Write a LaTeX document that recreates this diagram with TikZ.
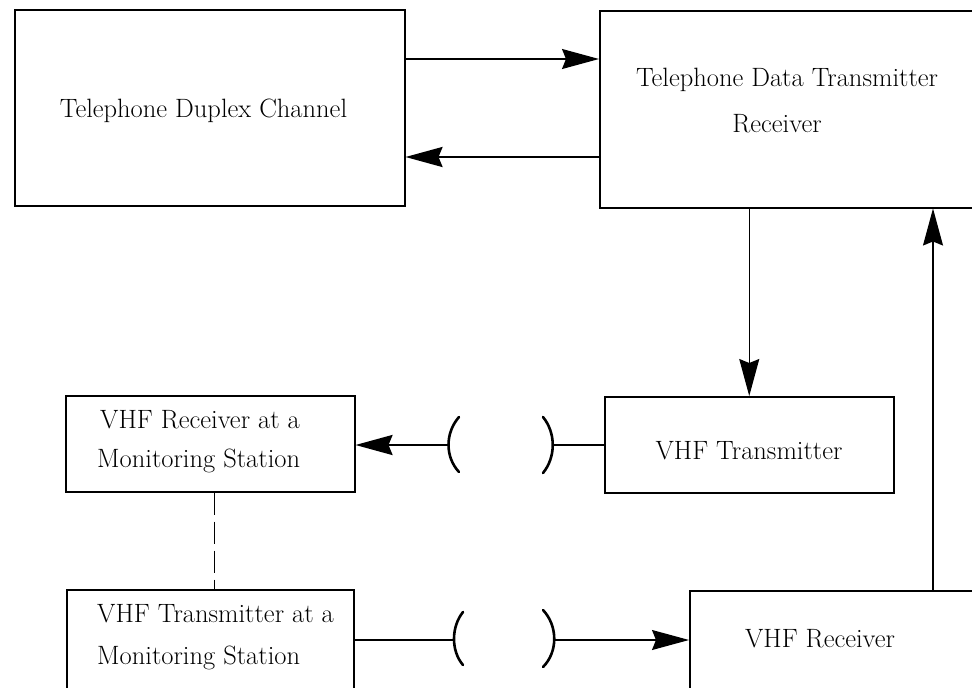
\documentclass[tikz,border=0pt]{standalone}
\usetikzlibrary{arrows.meta}
\begin{document}
\begin{tikzpicture}[x=1pt,y=-1pt,
  blk/.style={draw, line width=1.5pt, inner sep=0pt, anchor=north west},
  lbl/.style={font=\fontsize{26.5}{30}\selectfont, inner sep=0pt},
  link/.style={line width=1.2pt},
  boldlink/.style={line width=2.4pt},
  head/.style={-{Stealth[length=37pt,width=20pt,inset=4pt]}},
  lens/.style={line width=2.6pt, line cap=round}]

\useasboundingbox (0,0) rectangle (972,688);
\clip (0,0) rectangle (972,688);

% blocks
\node[blk, minimum width=390pt, minimum height=196pt] (tdc)  at (14,9)   {};
\node[blk, minimum width=391pt, minimum height=197pt] (tdtr) at (599,10) {};
\node[blk, minimum width=289pt, minimum height=96pt]  (vrm)  at (65,395)  {};
\node[blk, minimum width=289pt, minimum height=96pt]  (vt)   at (604,396) {};
\node[blk, minimum width=287pt, minimum height=121pt] (vtm)  at (66,589)  {};
\node[blk, minimum width=301pt, minimum height=120pt] (vr)   at (689,590) {};

% block texts
\node[lbl, anchor=base] (tdcA) at (203.5,117) {Telephone Duplex Channel};
\node[lbl, anchor=base] (tdtrA) at (787,86) {Telephone Data Transmitter};
\node[lbl, anchor=base] (tdtrB) at (777,132) {Receiver};
\node[lbl, anchor=base west] (vrmA) at (100,428) {VHF Receiver at a};
\node[lbl, anchor=base west] (vrmB) at (97,467) {Monitoring Station};
\node[lbl, anchor=base] (vtA) at (749,459) {VHF Transmitter};
\node[lbl, anchor=base west] (vtmA) at (97,622) {VHF Transmitter at a};
\node[lbl, anchor=base west] (vtmB) at (97,664) {Monitoring Station};
\node[lbl, anchor=base] (vrA) at (820,647) {VHF Receiver};

% reference levels for the connectors
\coordinate (upperrow) at (0,59);
\coordinate (lowerrow) at (0,157);
\coordinate (riser) at (933,0);
\coordinate (dashx) at (214,0);
\coordinate (lensAl) at (448,445);
\coordinate (lensAr) at (553,445);
\coordinate (lensBl) at (454,640);
\coordinate (lensBr) at (555,640);

% telephone link
\draw[link, head] (tdc.east |- upperrow) -- (tdtr.west |- upperrow);
\draw[boldlink, head] (tdtr.west |- lowerrow) -- (tdc.east |- lowerrow);

% data to and from the VHF units
\draw[link, head] (tdtr.south -| vt.north) -- (vt.north);
\draw[link, head] (vr.north -| riser) -- (tdtr.south -| riser);

% radio paths
\draw[link] (vt.west |- lensAr) -- (lensAr);
\draw[boldlink, head] (lensAl) -- (vrm.east |- lensAl);
\draw[link] (vtm.east |- lensBl) -- (lensBl);
\draw[link, head] (lensBr) -- (vr.west |- lensBr);

% antenna gaps
\draw[lens] (459,417) .. controls (445,433) and (445,457) .. (459,472);
\draw[lens] (543,417) .. controls (556,433) and (556,457) .. (543,473);
\draw[lens] (463,612) .. controls (451,627) and (451,651) .. (463,665);
\draw[lens] (543,610) .. controls (558,626) and (558,652) .. (543,667);

% local link at the monitoring station
\draw[line width=1pt, dash pattern=on 22pt off 7pt] (vrm.south -| dashx) -- (vtm.north -| dashx);
\end{tikzpicture}
\end{document}
